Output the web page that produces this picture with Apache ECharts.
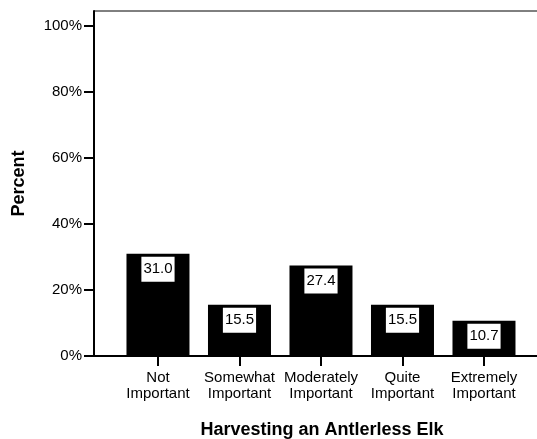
<!DOCTYPE html>
<html>
<head>
<meta charset="utf-8">
<script src="https://cdn.jsdelivr.net/npm/echarts@6/dist/echarts.min.js"></script>
<style>
html,body{margin:0;padding:0;background:#fff;}
#chart{width:537px;height:439px;}
</style>
</head>
<body>
<div id="chart"></div>
<script>
const categories = ["Not\nImportant", "Somewhat\nImportant", "Moderately\nImportant", "Quite\nImportant", "Extremely\nImportant"];
const percents = [31.0, 15.5, 27.4, 15.5, 10.7];
const yTicks = [0, 20, 40, 60, 80, 100];
const xTitle = "Harvesting an Antlerless Elk";
const yTitle = "Percent";

const positions = categories.map((c, i) => i + 1);
const FONT = "'Liberation Sans', Arial, sans-serif";

const chart = echarts.init(document.getElementById('chart'), null, {renderer: 'canvas'});
chart.setOption({
  animation: false,
  backgroundColor: '#fff',
  grid: {
    left: 94, right: -2, top: 11, bottom: 83,
    outerBoundsMode: 'none',
    containLabel: false,
    show: true, borderColor: '#000', borderWidth: 1, backgroundColor: 'transparent'
  },
  xAxis: {
    type: 'value',
    min: 0.215, max: 5.675,
    splitLine: {show: false},
    axisLine: {show: true, lineStyle: {color: '#000', width: 2}},
    axisTick: {show: true, customValues: positions, length: 10, lineStyle: {color: '#000', width: 2}},
    axisLabel: {
      customValues: positions,
      formatter: v => categories[Math.round(v) - 1] || '',
      color: '#000', fontFamily: FONT, fontSize: 15, lineHeight: 16, margin: 14
    },
    name: xTitle,
    nameLocation: 'middle',
    nameGap: 65,
    nameTextStyle: {color: '#000', fontFamily: FONT, fontSize: 18, fontWeight: 'bold', padding: [0, 0, 0, 11]}
  },
  yAxis: {
    type: 'value',
    min: 0, max: 104.5,
    splitLine: {show: false},
    axisLine: {show: true, lineStyle: {color: '#000', width: 2}},
    axisTick: {show: true, customValues: yTicks, length: 10, lineStyle: {color: '#000', width: 2}},
    axisLabel: {
      customValues: yTicks,
      formatter: v => v + '%',
      color: '#000', fontFamily: FONT, fontSize: 15, margin: 12
    },
    name: yTitle,
    nameLocation: 'middle',
    nameGap: 66,
    nameRotate: 90,
    nameTextStyle: {color: '#000', fontFamily: FONT, fontSize: 18, fontWeight: 'bold'}
  },
  series: [{
    type: 'bar',
    data: positions.map((p, i) => [p, percents[i]]),
    barWidth: 63,
    itemStyle: {color: '#000'},
    label: {
      show: true,
      position: 'insideTop',
      distance: 3,
      formatter: p => p.value[1].toFixed(1),
      backgroundColor: '#fff',
      padding: [5, 2, 5, 2],
      color: '#000', fontFamily: FONT, fontSize: 15, lineHeight: 15
    }
  }]
});
</script>
</body>
</html>
